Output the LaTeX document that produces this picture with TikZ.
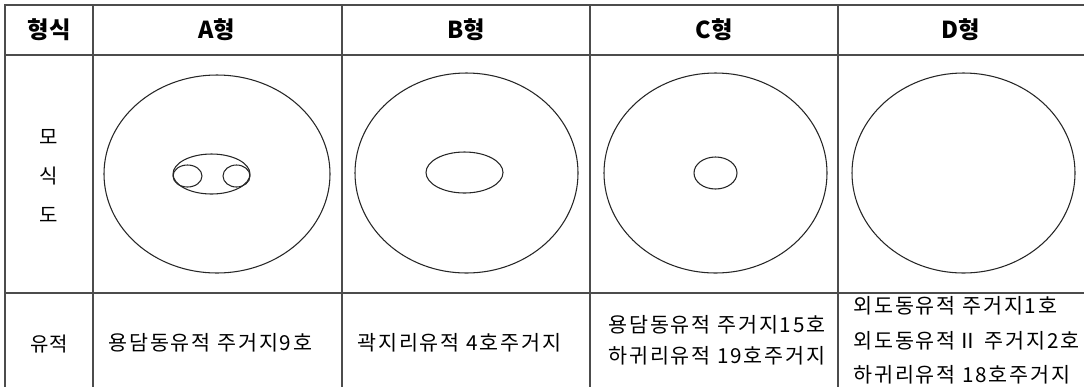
\documentclass[tikz,border=0pt]{standalone}
\usepackage{fontspec}
\setmainfont{Noto Sans CJK KR}
\newfontfamily\wide[LetterSpace=9]{Noto Sans CJK KR}
\tikzset{
  tbl/.style={line width=1pt, black!70},
  pit/.style={line width=0.8pt, black!85},
  hd/.style={font=\fontsize{17.5}{20}\selectfont\bfseries, inner sep=0pt},
  side/.style={font=\fontsize{15}{18}\selectfont, inner sep=0pt},
  txt/.style={font=\wide\fontsize{15.5}{18}\selectfont, inner sep=0pt, anchor=west},
}

\begin{document}
\begin{tikzpicture}[x=0.75pt,y=-0.75pt]
        \useasboundingbox (0,0) rectangle (1084,387);
        % table
        \draw[tbl] (1084,5) -- (5,5) -- (5,387);
        \draw[tbl] (5,55) -- (1084,55);
        \draw[tbl] (5,293) -- (1084,293);
        \foreach \x in {93,342,590,838} \draw[tbl] (\x,5) -- (\x,387);
        % header
        \node[hd] (form) at (49,30) {형식};
        \node[hd] (typeA) at (217,30) {A형};
        \node[hd] (typeB) at (466,30) {B형};
        \node[hd] (typeC) at (714,30) {C형};
        \node[hd] (typeD) at (961,30) {D형};
        \node[side] (mo) at (49,137) {모};
        \node[side] (sik) at (49,176) {식};
        \node[side] (do) at (49,215) {도};
        \node[side] (site) at (49,344) {유적};
        % plans
        \draw[pit] (217,174) ellipse[x radius=113, y radius=99];
        \draw[pit] (211.5,174) ellipse[x radius=38.5, y radius=20];
        \draw[pit] (187.5,176) ellipse[x radius=14.5, y radius=11];
        \draw[pit] (236.5,176) ellipse[x radius=13.5, y radius=11];
        \draw[pit] (466.5,173) ellipse[x radius=111.5, y radius=100];
        \draw[pit] (464.5,172.5) ellipse[x radius=38.5, y radius=20.5];
        \draw[pit] (715.5,173) ellipse[x radius=111.5, y radius=100];
        \draw[pit] (715.5,173) ellipse[x radius=21.5, y radius=16];
        \draw[pit] (963.5,173) ellipse[x radius=111.5, y radius=100];
        % sites
        \node[txt] (siteA) at (108,343) {용담동유적 주거지9호};
        \node[txt] (siteB) at (357,343) {곽지리유적 4호주거지};
        \node[txt] (siteC1) at (608,325) {용담동유적 주거지15호};
        \node[txt] (siteC2) at (608,356) {하귀리유적 19호주거지};
        \node[txt] (siteD1) at (853,306) {외도동유적 주거지1호};
        \node[txt] (siteD2) at (853,341) {외도동유적Ⅱ 주거지2호};
        \node[txt] (siteD3) at (853,375) {하귀리유적 18호주거지};
\end{tikzpicture}
\end{document}
